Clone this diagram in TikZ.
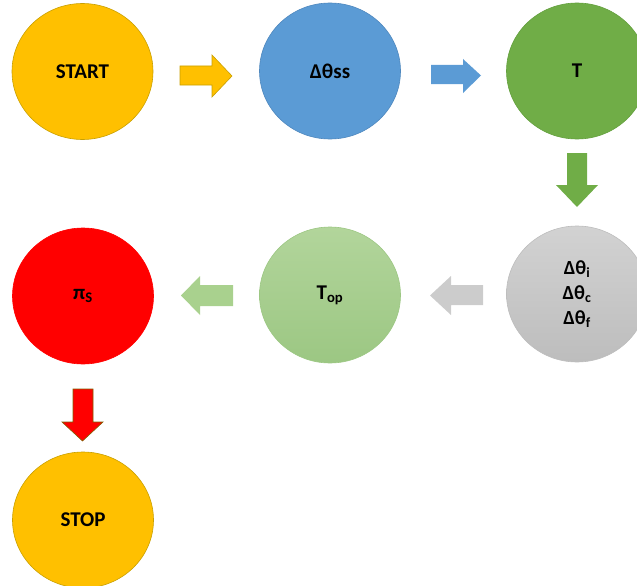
\documentclass[tikz,border=0pt]{standalone}
\usepackage{fontspec}
\setmainfont{Carlito}
\usetikzlibrary{shapes.geometric}
\definecolor{cyel}{HTML}{FFC000}
\definecolor{cyelD}{HTML}{C9A000}
\definecolor{cblue}{HTML}{5B9BD5}
\definecolor{cblueD}{HTML}{4F88BE}
\definecolor{cgreen}{HTML}{70AD47}
\definecolor{cgreenD}{HTML}{64A03E}
\definecolor{cgrayT}{HTML}{D2D2D2}
\definecolor{cgrayB}{HTML}{BDBDBD}
\definecolor{clgT}{HTML}{B2D59B}
\definecolor{clgB}{HTML}{9CC783}
\definecolor{clg}{HTML}{A9D18E}
\definecolor{cgrayA}{HTML}{CCCCCC}
\definecolor{cred}{HTML}{FF0000}
\definecolor{credD}{HTML}{806000}
\begin{document}
\begin{tikzpicture}[x=1pt,y=-1pt,
  bub/.style={ellipse, minimum width=141pt, minimum height=136pt, inner sep=0pt,
    font=\bfseries\fontsize{21}{25}\selectfont, text=black, line width=0.6pt},
  barrow/.style={line width=0.6pt, line join=miter}]
\useasboundingbox (0,0) rectangle (637,586);
% nodes
\node[bub, fill=cyel, draw=cyelD] (start) at (82.5,71.5) {START};
\node[bub, fill=cblue, draw=cblueD] (ss) at (330,71) {Δθss};
\node[bub, fill=cgreen, draw=cgreenD] (T) at (577,71) {T};
\node[bub, top color=cgrayT, bottom color=cgrayB, draw=cgrayB, align=center,
  font=\bfseries\fontsize{20}{25}\selectfont] (dth) at (577,294)
  {Δθ\textsubscript{i}\\Δθ\textsubscript{c}\\Δθ\textsubscript{f}};
\node[bub, top color=clgT, bottom color=clgB, draw=clgB] (Top) at (330,295) {T\textsubscript{op}};
\node[bub, fill=cred, draw=cred] (pi) at (83,296) {π\textsubscript{S}};
\node[bub, fill=cyel, draw=cyelD] (stop) at (83,520) {STOP};
% block arrows
\path[barrow, fill=cyel, draw=cyelD] (180,66)--(212,66)--(212,55)--(232,76)--(212,97)--(212,85)--(180,85)--cycle;
\path[barrow, fill=cblue] (431,65)--(463,65)--(463,59)--(481,75.5)--(463,93)--(463,84)--(431,84)--cycle;
\path[barrow, fill=cgreen] (567,153)--(587,153)--(587,185)--(598,185)--(577,207)--(556,185)--(567,185)--cycle;
\path[barrow, fill=cgrayA] (483,285)--(451,285)--(451,276)--(430,295.5)--(451,315)--(451,305)--(483,305)--cycle;
\path[barrow, fill=clg] (233,285)--(200,285)--(200,276)--(181,295.5)--(200,315)--(200,306)--(233,306)--cycle;
\path[barrow, fill=cred, draw=credD] (73,389)--(93,389)--(93,422)--(103,422)--(82.5,441)--(62,422)--(73,422)--cycle;
\end{tikzpicture}
\end{document}
